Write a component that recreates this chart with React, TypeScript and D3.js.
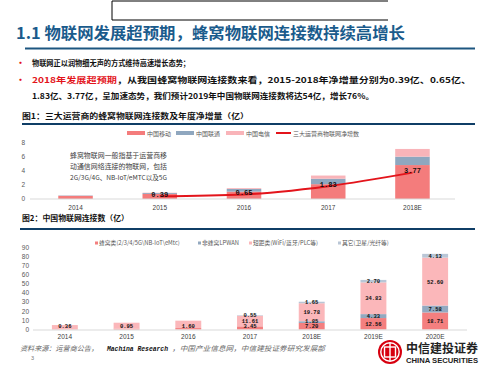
import React from 'react';
import * as d3 from 'd3';

// chart 1: three operators, cellular IoT connections (亿)
const years1 = ['2014', '2015', '2016', '2017', '2018E'];
const mobile = [0.45, 0.72, 1.05, 2.12, 4.85];
const unicom = [0.05, 0.13, 0.38, 0.78, 1.2];
const telecom = [0.0, 0.05, 0.12, 0.45, 1.1];
const netAdd = [null, 0.39, 0.65, 1.83, 3.77];
const ticks1 = [0, 2, 4, 6, 8];

// chart 2: China IoT connections (亿)
const years2 = ['2014', '2015', '2016', '2017', '2018E', '2019E', '2020E'];
const cellular = [0.36, 0.95, 1.6, 3.45, 7.2, 12.56, 18.71];
const lpwan = [0, 0, 0, 0.05, 1.85, 4.33, 7.58];
const shortRange = [4.5, 6.5, 8.1, 11.61, 19.78, 34.83, 52.6];
const other = [0, 0, 0, 0.55, 1.65, 2.7, 4.13];
const ticks2 = [0, 10, 20, 30, 40, 50, 60, 70, 80, 90];

const NAVY = '#0f3e66';
const CJK = '"Noto Sans CJK SC", sans-serif';
const MONO = '"Liberation Mono", "DejaVu Sans Mono", monospace';
const SANS = '"Liberation Sans", Arial, sans-serif';

const Chart1 = () => {
  const x = d3.scaleBand().domain(years1).range([33, 455]).paddingInner(0.59).paddingOuter(0.3);
  const y = d3.scaleLinear().domain([0, 8]).range([199, 143]);
  const colors = ['#f47c7c', '#8fa7bf', '#f9b4b9'];
  const rows = years1.map((yr, i) => ({ yr, mobile: mobile[i], unicom: unicom[i], telecom: telecom[i] }));
  const stack = d3.stack<any>().keys(['mobile', 'unicom', 'telecom'])(rows);
  const pts = years1.map((yr, i) => ({ yr, v: netAdd[i] })).filter(d => d.v !== null) as { yr: string; v: number }[];
  const line = d3.line<{ yr: string; v: number }>()
    .x(d => (x(d.yr) as number) + x.bandwidth() / 2)
    .y(d => y(d.v))
    .curve(d3.curveMonotoneX);
  return (
    <g>
      {ticks1.map(t => (
        <text key={t} x={25} y={y(t)} dy="0.35em" textAnchor="end" fontSize={6.5} fill="#595959" fontFamily={SANS}>{t}</text>
      ))}
      {stack.map((s, si) => (
        <g key={si} fill={colors[si]}>
          {s.map((d, i) => (
            <rect key={i} x={x(years1[i])} width={x.bandwidth()} y={y(d[1])} height={Math.max(0, y(d[0]) - y(d[1]))} />
          ))}
        </g>
      ))}
      <line x1={30} x2={455} y1={199} y2={199} stroke="#d9d9d9" strokeWidth={1} />
      <path d={line(pts) || ''} fill="none" stroke="#e3141b" strokeWidth={2} />
      {pts.map(d => (
        <text key={d.yr} x={(x(d.yr) as number) + x.bandwidth() / 2} y={y(d.v)} dy="0.1em" textAnchor="middle"
          fontSize={7} fontWeight="bold" fontFamily={MONO} fill="#111">{d.v.toFixed(2)}</text>
      ))}
      {years1.map(yr => (
        <text key={yr} x={(x(yr) as number) + x.bandwidth() / 2} y={209.5} textAnchor="middle" fontSize={6.5} fill="#404040" fontFamily={SANS}>{yr}</text>
      ))}
      {/* legend */}
      <rect x={127} y={131} width={18} height={4} fill={colors[0]} />
      <text x={147} y={135.5} fontSize={6} fill="#595959" fontFamily={CJK}>中国移动</text>
      <rect x={176} y={131} width={18} height={4} fill={colors[1]} />
      <text x={196} y={135.5} fontSize={6} fill="#595959" fontFamily={CJK}>中国联通</text>
      <rect x={226} y={131} width={18} height={4} fill={colors[2]} />
      <text x={246} y={135.5} fontSize={6} fill="#595959" fontFamily={CJK}>中国电信</text>
      <line x1={276} x2={291} y1={133} y2={133} stroke="#e3141b" strokeWidth={2} />
      <text x={293} y={135.5} fontSize={6} fill="#595959" fontFamily={CJK}>三大运营商物联网净增数</text>
      {/* note */}
      <g fontSize={6.8} fill="#404040" fontFamily={CJK}>
        <text x={70} y={158} textLength={97} lengthAdjust="spacingAndGlyphs">蜂窝物联网一般指基于运营商移</text>
        <text x={70} y={169} textLength={97} lengthAdjust="spacingAndGlyphs">动通信网络连接的物联网，包括</text>
        <text x={70} y={180} textLength={97} lengthAdjust="spacingAndGlyphs">2G/3G/4G、NB-IoT/eMTC以及5G</text>
      </g>
    </g>
  );
};

const Chart2 = () => {
  const x = d3.scaleBand().domain(years2).range([34, 466]).paddingInner(0.58).paddingOuter(0.29);
  const y = d3.scaleLinear().domain([0, 90]).range([329.5, 247.5]);
  const keys = ['cellular', 'lpwan', 'shortRange', 'other'];
  const colors = ['#f47f7f', '#93a9c0', '#fbb7ba', '#b9c6d6'];
  const rows = years2.map((yr, i) => ({ yr, cellular: cellular[i], lpwan: lpwan[i], shortRange: shortRange[i], other: other[i] }));
  const stack = d3.stack<any>().keys(keys)(rows);
  const legend = [
    { x: 95, label: '蜂窝类(2/3/4/5G\\NB-IoT\\eMtc)' },
    { x: 198, label: '非蜂窝LPWAN' },
    { x: 249, label: '短距类(WiFi/蓝牙/PLC等)' },
    { x: 338, label: '其它(卫星/光纤等)' },
  ];
  return (
    <g>
      {ticks2.map(t => (
        <text key={t} x={29} y={y(t)} dy="0.35em" textAnchor="end" fontSize={6.5} fill="#595959" fontFamily={SANS}>{t}</text>
      ))}
      {stack.map((s, si) => (
        <g key={si}>
          {s.map((d, i) => (
            <rect key={i} x={x(years2[i])} width={x.bandwidth()} y={y(d[1])} height={Math.max(0, y(d[0]) - y(d[1]))} fill={colors[si]} />
          ))}
        </g>
      ))}
      {stack.map((s, si) => (
        <g key={'l' + si}>
          {s.map((d, i) => {
            const v = d[1] - d[0];
            if (si !== 0 && (i < 3 || v < 0.3)) return null;
            // small segments: nudge label so neighbouring labels don't collide
            let cy = Math.min((y(d[0]) + y(d[1])) / 2, 326.5);
            if (si === 1 && y(d[0]) - y(d[1]) < 3) cy -= 1.5;
            return (
              <text key={i} x={(x(years2[i]) as number) + x.bandwidth() / 2} y={cy} dy="0.35em" textAnchor="middle"
                fontSize={5.5} fontWeight="bold" fontFamily={MONO} fill="#111">{v.toFixed(2)}</text>
            );
          })}
        </g>
      ))}
      <line x1={33} x2={467} y1={330} y2={330} stroke="#d9d9d9" strokeWidth={1} />
      {years2.map(yr => (
        <text key={yr} x={(x(yr) as number) + x.bandwidth() / 2} y={338.5} textAnchor="middle" fontSize={6.5} fill="#404040" fontFamily={SANS}>{yr}</text>
      ))}
      {legend.map((l, i) => (
        <g key={i}>
          <rect x={l.x} y={241.5} width={3} height={3} fill={colors[i]} />
          <text x={l.x + 4} y={245} fontSize={5.8} fill="#595959" fontFamily={CJK}>{l.label}</text>
        </g>
      ))}
    </g>
  );
};

const Logo = () => (
  <g>
    <circle cx={390} cy={352} r={12} fill="#d7000f" />
    <circle cx={390} cy={352} r={9.2} fill="none" stroke="#fff" strokeWidth={1.4} />
    <rect x={384.5} y={347} width={11} height={10} fill="none" stroke="#fff" strokeWidth={1.4} />
    <line x1={390} x2={390} y1={343} y2={361} stroke="#fff" strokeWidth={1.4} />
    <text x={406} y={352.5} fontSize={12} fontWeight="bold" fill="#222" fontFamily={CJK} textLength={72} lengthAdjust="spacingAndGlyphs">中信建投证券</text>
    <text x={406} y={363} fontSize={7.5} fontWeight="bold" fill="#222" fontFamily={SANS} textLength={72} lengthAdjust="spacingAndGlyphs">CHINA SECURITIES</text>
  </g>
);

export default function App() {
  return (
    <svg width={500} height={375} style={{ position: 'absolute', left: 0, top: 0, background: '#fff' }}>
      <rect width={500} height={375} fill="#fff" />
      <path d="M388,1 H112 V20 H388" fill="none" stroke="#000" strokeWidth={1} />
      <text x={16} y={39} fontSize={15.5} fontWeight="bold" fill="#1a5b8c" fontFamily={CJK} textLength={389} lengthAdjust="spacingAndGlyphs">1.1 物联网发展超预期，蜂窝物联网连接数持续高增长</text>
      <rect x={25} y={47.5} width={450} height={2} fill="#1d5680" />

      <g fontFamily={CJK} fontWeight="bold" fontSize={8}>
        <text x={16} y={66} fill="#e3141b" fontSize={9}>•</text>
        <text x={32} y={66} fill="#111" fontSize={7.5} textLength={158} lengthAdjust="spacingAndGlyphs">物联网正以润物细无声的方式维持高速增长态势；</text>
        <text x={16} y={83} fill="#e3141b" fontSize={9}>•</text>
        <text x={32} y={83} fill="#e3141b" textLength={85} lengthAdjust="spacingAndGlyphs">2018年发展超预期</text>
        <text x={117} y={83} fill="#111" textLength={354} lengthAdjust="spacingAndGlyphs">，从我国蜂窝物联网连接数来看，2015-2018年净增量分别为0.39亿、0.65亿、</text>
        <text x={32} y={99} fill="#111" textLength={342} lengthAdjust="spacingAndGlyphs">1.83亿、3.77亿，呈加速态势，我们预计2019年中国物联网连接数将达54亿，增长76%。</text>
      </g>

      <text x={22} y={119} fontSize={7.5} fontWeight="bold" fill="#111" fontFamily={CJK} textLength={227} lengthAdjust="spacingAndGlyphs">图1：三大运营商的蜂窝物联网连接数及年度净增量（亿）</text>
      <rect x={22} y={123} width={453} height={2} fill={NAVY} />
      <Chart1 />

      <text x={22} y={221} fontSize={7.5} fontWeight="bold" fill="#111" fontFamily={CJK} textLength={107} lengthAdjust="spacingAndGlyphs">图2：中国物联网连接数（亿）</text>
      <rect x={20} y={228} width={455} height={2} fill={NAVY} />
      <Chart2 />

      <g fontSize={7} fontStyle="italic" fill="#666" fontFamily={CJK}>
        <text x={20} y={350.5} textLength={78} lengthAdjust="spacingAndGlyphs">资料来源：运营商公告，</text>
        <text x={107} y={350.5} fontFamily={MONO} fontWeight="bold" fill="#111" textLength={61} lengthAdjust="spacingAndGlyphs">Machina Research</text>
        <text x={172} y={350.5} textLength={153} lengthAdjust="spacingAndGlyphs">，中国产业信息网，中信建投证券研究发展部</text>
      </g>
      <text x={31} y={360} fontSize={5.5} fill="#777" fontFamily={SANS}>3</text>
      <Logo />
    </svg>
  );
}
